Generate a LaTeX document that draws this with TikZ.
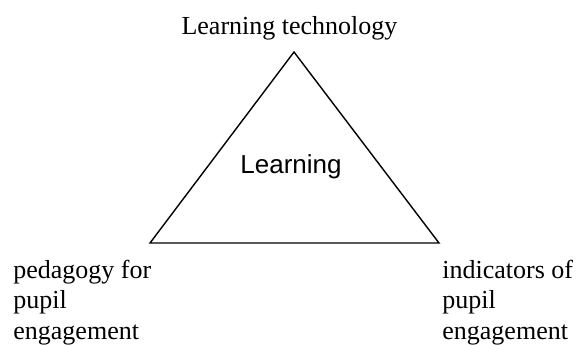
\documentclass[tikz,border=0pt]{standalone}
\usepackage{fontspec}
\setmainfont{Liberation Serif}
\newfontfamily\arialfont{Liberation Sans}
\tikzset{
  corner label/.style={inner sep=0pt, anchor=base west, align=left,
    font=\fontsize{13}{15.25}\selectfont},
  top label/.style={inner sep=0pt, anchor=base, font=\fontsize{13}{15.25}\selectfont},
  centre label/.style={inner sep=0pt, anchor=base, font=\arialfont\fontsize{13}{15}\selectfont}
}
\begin{document}
\begin{tikzpicture}[x=1pt,y=1pt]
			\useasboundingbox (0,0) rectangle (288.5,172.5);
			% corners of the triangle
			\coordinate (apex) at (147,146.5);
			\coordinate (leftcorner) at (75,51);
			\coordinate (rightcorner) at (219.5,51);
			\draw [line width=0.7pt] (apex)--(leftcorner)--(rightcorner)--cycle;

			\node [top label] (technology) at (144.75,155.5) {Learning technology};
			\node [centre label] (learning) at (145.5,86) {Learning};
			% base anchor sits on the last line
			\node [corner label] (pedagogy) at (6.5,3) {pedagogy for\\pupil\\engagement};
			\node [corner label] (indicators) at (221,3) {indicators of\\pupil\\engagement};
\end{tikzpicture}
\end{document}
